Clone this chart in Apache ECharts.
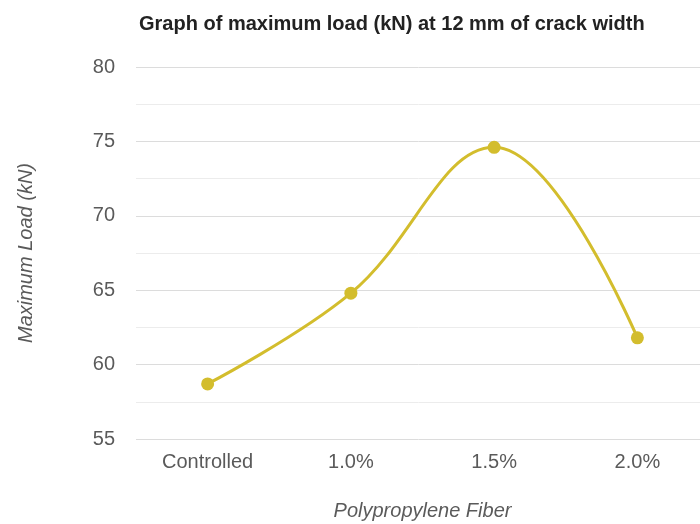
<!DOCTYPE html>
<html><head><meta charset="utf-8">
<script src="https://cdn.jsdelivr.net/npm/echarts@6/dist/echarts.min.js"></script>
<style>html,body{margin:0;padding:0;background:#fff}#c{width:700px;height:524px}</style>
</head><body><div id="c"></div>
<script>
const titleText = 'Graph of maximum load (kN) at 12 mm of crack width';
const categories = ['Controlled', '1.0%', '1.5%', '2.0%'];
const maxLoad = [58.7, 64.8, 74.6, 61.8];
const yName = 'Maximum Load (kN)';
const xName = 'Polypropylene Fiber';

const FONT = 'Liberation Sans, Arial, sans-serif';
const chart = echarts.init(document.getElementById('c'), null, {renderer: 'canvas'});
chart.setOption({
  animation: false,
  backgroundColor: '#fff',
  title: {
    text: titleText, left: 134, top: 9,
    textStyle: {fontFamily: FONT, fontSize: 20, fontWeight: 'bold', color: '#222'}
  },
  grid: {left: 136, width: 573, top: 67, height: 372, containLabel: false, outerBoundsMode: 'none'},
  xAxis: {
    type: 'category', data: categories, boundaryGap: true,
    name: xName, nameLocation: 'middle', nameGap: 62,
    nameTextStyle: {fontFamily: FONT, fontSize: 20, fontStyle: 'italic', color: '#5a5a5a'},
    axisLine: {show: false}, axisTick: {show: false},
    axisLabel: {fontFamily: FONT, fontSize: 20, color: '#5a5a5a', margin: 13}
  },
  yAxis: {
    type: 'value', min: 55, max: 80, interval: 5,
    name: yName, nameLocation: 'middle', nameGap: 100, nameRotate: 90,
    nameTextStyle: {fontFamily: FONT, fontSize: 20, fontStyle: 'italic', color: '#5a5a5a'},
    axisLine: {show: false}, axisTick: {show: false},
    axisLabel: {fontFamily: FONT, fontSize: 20, color: '#5a5a5a', margin: 21},
    splitLine: {lineStyle: {color: '#dcdcdc', width: 1}},
    minorTick: {show: false, splitNumber: 2},
    minorSplitLine: {show: true, lineStyle: {color: '#ececec', width: 1}}
  },
  series: [{
    type: 'line', data: maxLoad, smooth: 0.4,
    symbol: 'circle', symbolSize: 13,
    lineStyle: {color: '#d3bd2d', width: 3},
    itemStyle: {color: '#d3bd2d'}
  }]
});
</script></body></html>
